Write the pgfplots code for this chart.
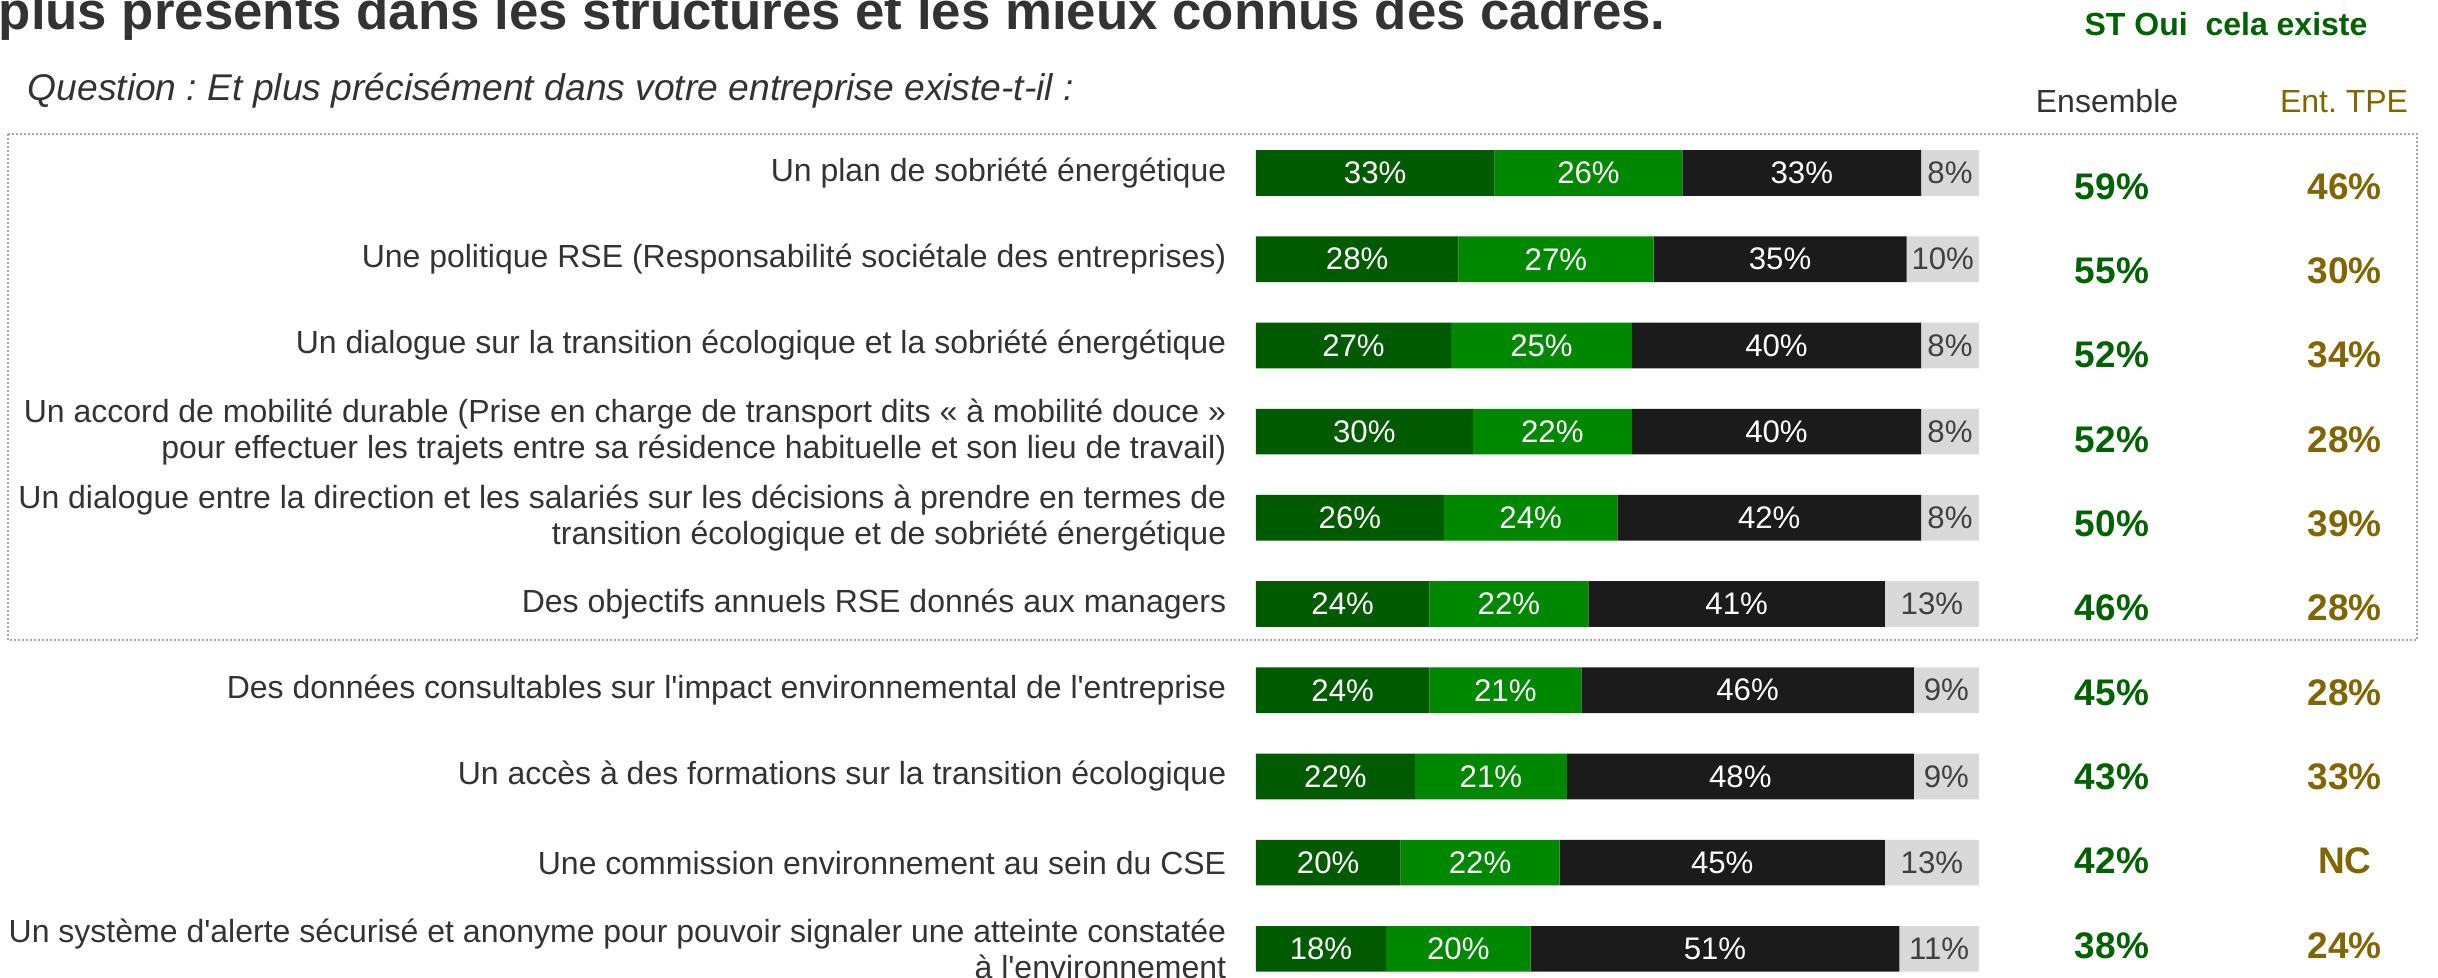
\documentclass[border=0pt]{standalone}
\usepackage{pgfplots}
\pgfplotsset{compat=1.18}
\usepackage{pgfplotstable}
\usepackage{fontspec}
\setmainfont{Liberation Sans}[Ligatures=TeXOff]
\frenchspacing
\definecolor{dkgreen}{HTML}{005A00}
\definecolor{mdgreen}{HTML}{008700}
\definecolor{blk}{HTML}{1B1B1B}
\definecolor{lgray}{HTML}{D9D9D9}
\definecolor{txt}{HTML}{333333}
\definecolor{txtg}{HTML}{404040}
\definecolor{ensgreen}{HTML}{006100}
\definecolor{olive}{HTML}{806600}
\definecolor{boxgray}{HTML}{A6A6A6}

\pgfplotstableread{
r a b c d ty ens tpe
0 33 26 33 8 0.158 59\% 46\%
1 28 27 35 10 1.136 55\% 30\%
2 27 25 40 8 2.114 52\% 34\%
3 30 22 40 8 3.092 52\% 28\%
4 26 24 42 8 4.070 50\% 39\%
5 24 22 41 13 5.048 46\% 28\%
6 24 21 46 9 6.026 45\% 28\%
7 22 21 48 9 7.004 43\% 33\%
8 20 22 45 13 7.982 42\% NC
9 18 20 51 11 8.960 38\% 24\%
}\data

\begin{document}
\begin{tikzpicture}
\begin{axis}[
  at={(0pt,0pt)}, anchor=north west,
  scale only axis, width=609.5pt, height=244.25pt,
  xmin=-173.7, xmax=163.5, ymin=-2.007, ymax=9.327,
  y dir=reverse,
  axis line style={draw=none}, major tick style={draw=none},
  xtick=\empty, ytick={0,...,9},
  yticklabels={
    {Un plan de sobriété énergétique},
    {Une politique RSE (Responsabilité sociétale des entreprises)},
    {Un dialogue sur la transition écologique et la sobriété énergétique},
    {Un accord de mobilité durable (Prise en charge de transport dits « à mobilité douce »\\pour effectuer les trajets entre sa résidence habituelle et son lieu de travail)},
    {Un dialogue entre la direction et les salariés sur les décisions à prendre en termes de\\transition écologique et de sobriété énergétique},
    {Des objectifs annuels RSE donnés aux managers},
    {Des données consultables sur l'impact environnemental de l'entreprise},
    {Un accès à des formations sur la transition écologique},
    {Une commission environnement au sein du CSE},
    {Un système d'alerte sécurisé et anonyme pour pouvoir signaler une atteinte constatée\\à l'environnement}
  },
  yticklabel style={anchor=east, align=right, inner sep=0pt, xshift=306.75pt,
    font=\fontsize{8}{9}\selectfont, text=txt},
  xbar stacked, bar width=0.53,
  clip=false,
  point meta=explicit,
  nodes near coords={\pgfmathprintnumber[assume math mode=true]{\pgfplotspointmeta}\%},
  every node near coord/.append style={anchor=center,
    font=\fontsize{7.8}{9}\selectfont, text=white, inner sep=0pt},
]
\addplot[fill=dkgreen, draw=none] table[x=a, y=r, meta=a] \data;
\addplot[fill=mdgreen, draw=none] table[x=b, y=r, meta=b] \data;
\addplot[fill=blk, draw=none] table[x=c, y=r, meta=c] \data;
\addplot[fill=lgray, draw=none, every node near coord/.append style={text=txtg}] table[x=d, y=r, meta=d] \data;
\end{axis}

\begin{axis}[
  at={(0pt,0pt)}, anchor=north west,
  scale only axis, width=609.5pt, height=244.25pt,
  xmin=-173.7, xmax=163.5, ymin=-2.007, ymax=9.327,
  y dir=reverse, hide axis, clip=false,
  point meta=explicit symbolic,
  nodes near coords={\pgfplotspointmeta},
  every node near coord/.append style={anchor=center, inner sep=0pt,
    font=\bfseries\fontsize{9.25}{11}\selectfont},
]
\addplot[draw=none, mark=none, every node near coord/.append style={text=ensgreen}]
  table[x expr=118.4, y=ty, meta=ens] \data;
\addplot[draw=none, mark=none, every node near coord/.append style={text=olive}]
  table[x expr=150.6, y=ty, meta=tpe] \data;
\end{axis}

\begin{scope}[x=0.25pt, y=-0.25pt]
\node[anchor=base west, inner sep=0pt, font=\bfseries\fontsize{13.2}{15}\selectfont, text=txt]
  at (-2,29) {plus présents dans les structures et les mieux connus des cadres.};
\node[anchor=base west, inner sep=0pt, font=\itshape\fontsize{9.3}{11}\selectfont, text=txt]
  at (27,100) {Question : Et plus précisément dans votre entreprise existe-t-il :};
\node[anchor=base, inner sep=0pt, font=\bfseries\fontsize{8}{10}\selectfont, text=ensgreen]
  at (2226,35) {ST Oui\ \ cela existe};
\node[anchor=base, inner sep=0pt, font=\fontsize{8}{10}\selectfont, text=txt]
  at (2107,112) {Ensemble};
\node[anchor=base, inner sep=0pt, font=\fontsize{8}{10}\selectfont, text=olive]
  at (2344,112) {Ent. TPE};
\draw[boxgray, line width=0.45pt, dash pattern=on 0.45pt off 0.55pt] (8,134) rectangle (2417,640);
\end{scope}

\pgfresetboundingbox
\path[use as bounding box] (0pt,0pt) rectangle (609.5pt,-244.25pt);
\end{tikzpicture}
\end{document}
